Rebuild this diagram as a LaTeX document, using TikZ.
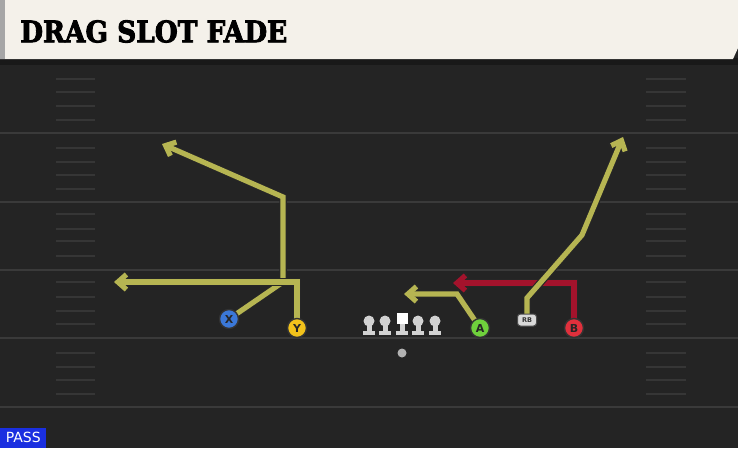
\documentclass[tikz,border=0pt]{standalone}
\usepackage{fontspec}
\setmainfont{DejaVu Sans}
\newfontfamily\titlefont[FakeBold=3]{DejaVu Serif}
\usetikzlibrary{arrows.meta}
\definecolor{field}{HTML}{242424}
\definecolor{cream}{HTML}{F4F1EA}
\definecolor{yardline}{HTML}{3A3A3A}
\definecolor{hashc}{HTML}{363636}
\definecolor{route}{HTML}{B6B552}
\definecolor{redroute}{HTML}{A3132C}
\definecolor{xblue}{HTML}{3B78D8}
\definecolor{yyellow}{HTML}{F2C21B}
\definecolor{agreen}{HTML}{6FD13C}
\definecolor{bred}{HTML}{E0303C}
\definecolor{lineman}{HTML}{D2D2D2}
\definecolor{passblue}{HTML}{1A2FE0}
\tikzset{
  yard/.style={draw=yardline, line width=2.2pt},
  hashm/.style={draw=hashc, line width=2.2pt},
  routeout/.style={draw=black!85, line width=7.5pt, line join=miter, -{Straight Barb[length=9pt,width=17pt,line width=7.5pt]}},
  routein/.style={draw=#1, line width=5.2pt, line join=miter, -{Straight Barb[length=8.5pt,width=15pt,line width=5.2pt]}},
  player/.style={circle, fill=#1, draw=black!80, line width=1.4pt, minimum size=19pt, inner sep=0pt, font=\bfseries\fontsize{11}{11}\selectfont, text=black!85},
  rbbox/.style={rounded corners=3pt, fill=lineman!85, draw=black!70, line width=1pt, minimum width=19pt, minimum height=12pt, inner sep=0pt, font=\bfseries\fontsize{6.5}{6.5}\selectfont, text=black!80},
}
\newcommand{\lman}[2]{%
  \fill[lineman] (#1-6,335) rectangle (#1+6,330.5);
  \fill[lineman] (#1-2.5,331) rectangle (#1+2.5,323);
  \fill[lineman] (#1,#2) circle (5.5pt);
}
\begin{document}
\begin{tikzpicture}[x=1pt,y=-1pt]
\useasboundingbox (0,0) rectangle (738,448);
% field
\fill[field] (0,0) rectangle (738,448);
\fill[black!90] (0,58) rectangle (738,65);
% header
\fill[cream] (0,0) -- (738,0) -- (738,48) -- (733,59) -- (0,59) -- cycle;
\fill[gray!70] (0,0) rectangle (5,59);
\node[anchor=west, inner sep=0pt] (title) at (20,31.5) {\resizebox{267pt}{22pt}{\titlefont\bfseries DRAG SLOT FADE}};
% yard lines
\foreach \yy in {133,202,270,338,407} {\draw[yard] (0,\yy) -- (738,\yy);}
% hash marks
\foreach \yy in {79,92,106,120,148,162,175,189,214,229,241,256,282,297,311,324,353,367,380,394} {
  \draw[hashm] (56,\yy) -- (95,\yy);
  \draw[hashm] (646,\yy) -- (686,\yy);
}
% route coordinates
\coordinate (x1) at (283,282);
\coordinate (x2) at (283,197);
\coordinate (x3) at (162,144);
\coordinate (y1) at (297,282);
\coordinate (y2) at (114,282);
\coordinate (a1) at (457,294);
\coordinate (a2) at (404,294);
\coordinate (b1) at (574,283);
\coordinate (b2) at (453,283);
\coordinate (r1) at (527,298);
\coordinate (r2) at (582,235);
\coordinate (r3) at (623,137);
\coordinate (xs) at (229,319);
\coordinate (ys) at (297,328);
\coordinate (as) at (480,328);
\coordinate (bs) at (574,328);
\coordinate (rs) at (527,318);
% X route
\draw[routeout] (xs) -- (x1) -- (x2) -- (x3);
\draw[routein=route] (xs) -- (x1) -- (x2) -- (x3);
% Y route
\draw[routeout] (ys) -- (y1) -- (y2);
\draw[routein=route] (ys) -- (y1) -- (y2);
% A route
\draw[routeout] (as) -- (a1) -- (a2);
\draw[routein=route] (as) -- (a1) -- (a2);
% B route
\draw[routeout] (bs) -- (b1) -- (b2);
\draw[routein=redroute] (bs) -- (b1) -- (b2);
% RB route
\draw[routeout] (rs) -- (r1) -- (r2) -- (r3);
\draw[routein=route] (rs) -- (r1) -- (r2) -- (r3);
% players
\node[player=xblue] (X) at (xs) {X};
\node[player=yyellow] (Y) at (ys) {Y};
\node[player=agreen] (A) at (as) {A};
\node[player=bred] (B) at (bs) {B};
\node[rbbox] (RB) at (527,320) {RB};
% offensive line
\lman{369}{321}
\lman{385}{321}
\fill[lineman] (396,335) rectangle (408,330.5);
\fill[lineman] (399.5,331) rectangle (404.5,323);
\node[fill=white, minimum size=11pt, inner sep=0pt] (C) at (402,318.5) {};
\lman{418}{321}
\lman{435}{321}
% ball
\fill[gray!60] (402,353) circle (4.5pt);
% pass label
\node[fill=passblue, text=white, anchor=south west, minimum width=46pt, minimum height=20pt, inner sep=0pt, font=\fontsize{14}{14}\selectfont] (pass) at (0,448) {PASS};
\end{tikzpicture}
\end{document}
